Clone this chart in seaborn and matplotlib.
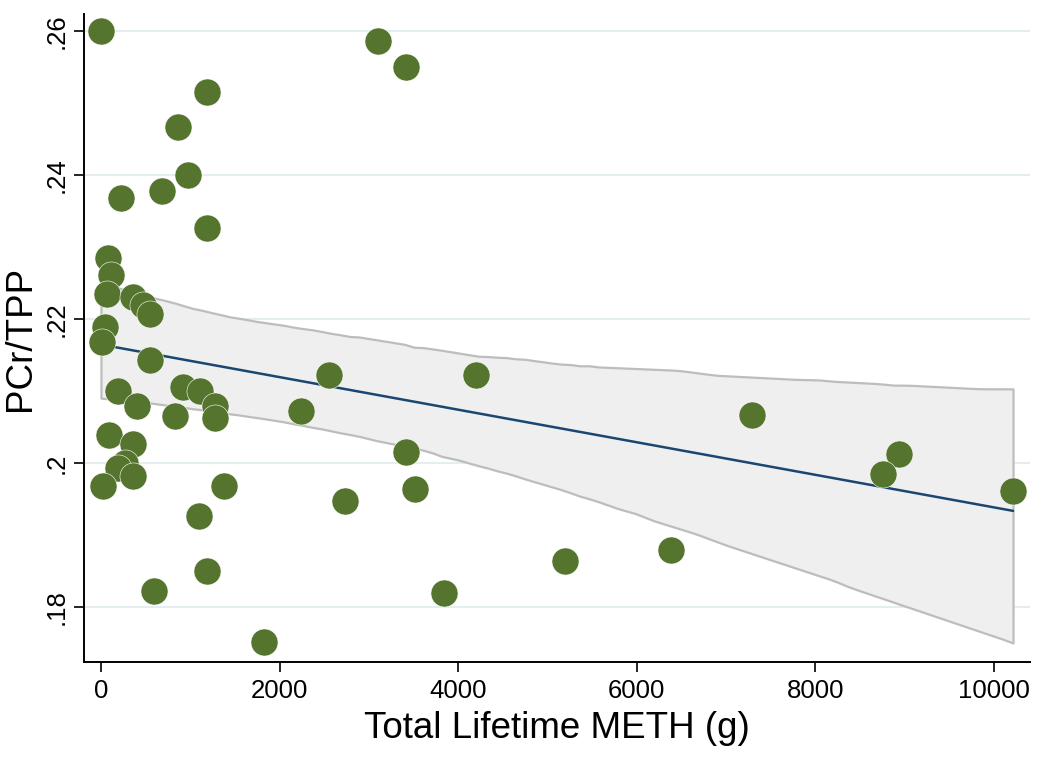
import numpy as np
import pandas as pd
import matplotlib
matplotlib.use('Agg')
import matplotlib.pyplot as plt
import seaborn as sns

# values
meth_g = [0, 3102, 3415, 1187, 862, 974, 683, 224, 1187, 78,
          112, 67, 358, 470, 549, 45, 11, 549, 190, 403,
          829, 918, 1109, 1277, 1277, 2553, 2240, 90, 358, 269,
          190, 358, 22, 1377, 1097, 2732, 1187, 594, 1825, 4199,
          3415, 3516, 3841, 5196, 6383, 7290, 8936, 8757, 10213]
pcr_tpp = [.2600, .2587, .2550, .2515, .2467, .2400, .2378, .2368, .2327, .2285,
           .2262, .2235, .2231, .2220, .2208, .2189, .2169, .2144, .2101, .2080,
           .2066, .2106, .2101, .2080, .2063, .2122, .2073, .2039, .2027, .2000,
           .1993, .1982, .1969, .1969, .1927, .1947, .1850, .1822, .1752, .2123,
           .2015, .1964, .1820, .1864, .1880, .2067, .2013, .1985, .1962]

x_ticks = [0, 2000, 4000, 6000, 8000, 10000]
y_ticks = [.18, .2, .22, .24, .26]
y_labels = ['.18', '.2', '.22', '.24', '.26']

df = pd.DataFrame({'meth': meth_g, 'pcr': pcr_tpp})

sns.set_style('white')
plt.rcParams['font.family'] = ['Liberation Sans', 'DejaVu Sans']
plt.rcParams['text.color'] = 'black'
plt.rcParams['axes.labelcolor'] = 'black'
plt.rcParams['xtick.color'] = 'black'
plt.rcParams['ytick.color'] = 'black'

fig = plt.figure(figsize=(10.5, 7.58), dpi=100)
ax = fig.add_axes([84/1050, 1-662/758, (1030-84)/1050, (662-14)/758])

for yt in y_ticks:
  ax.axhline(yt, color='#e4edf0', lw=1.5, zorder=0)

# fitted line with CI band
sns.regplot(ax=ax, data=df, x='meth', y='pcr', scatter=False, ci=98, n_boot=2000, seed=3,
            line_kws={'color': '#1a476f', 'lw': 1.8, 'zorder': 3})
for coll in ax.collections:
  coll.set_facecolor('#efefef')
  coll.set_alpha(1)
  coll.set_edgecolor('#bdbdbd')
  coll.set_linewidth(1.6)
  coll.set_zorder(2)

sns.scatterplot(ax=ax, data=df, x='meth', y='pcr', s=380, color='#55752f',
                edgecolor='white', linewidth=0.4, zorder=4)

ax.set_xlim(-190, 10403)
ax.set_ylim(0.1724, 0.2624)
ax.set_xticks(x_ticks)
ax.set_yticks(y_ticks)
ax.set_yticklabels(y_labels, rotation=90, va='center')
ax.tick_params(axis='both', direction='out', length=7, width=1.2, color='black',
               labelsize=18.5, labelcolor='black', left=True, bottom=True)
ax.tick_params(axis='x', pad=5)
ax.tick_params(axis='y', pad=4)

sns.despine(ax=ax)
for side in ['left', 'bottom']:
  ax.spines[side].set_color('black')
  ax.spines[side].set_linewidth(1.4)

ax.set_xlabel('Total Lifetime METH (g)', fontsize=26.5, labelpad=6)
ax.set_ylabel('PCr/TPP', fontsize=26.5, labelpad=5)

fig.savefig('out.png', dpi=100)
